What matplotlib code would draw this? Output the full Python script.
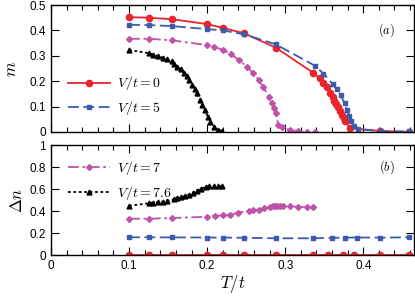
import matplotlib
matplotlib.use("Agg")
import matplotlib.pyplot as plt
from matplotlib.ticker import MultipleLocator

plt.rcParams['font.family'] = ['Liberation Sans', 'DejaVu Sans']
plt.rcParams['mathtext.fontset'] = 'cm'

# ---- data: panel (a) order parameter m ----
T0_m = [0.1, 0.125, 0.155, 0.2, 0.22, 0.247, 0.288, 0.336, 0.344, 0.348, 0.353, 0.358, 0.361,
        0.363, 0.365, 0.368, 0.370, 0.373, 0.375, 0.377, 0.383, 0.422, 0.459]
m0 = [0.452, 0.45, 0.444, 0.425, 0.41, 0.389, 0.332, 0.233, 0.211, 0.194, 0.176, 0.155, 0.139,
      0.123, 0.109, 0.097, 0.084, 0.067, 0.054, 0.043, 0.015, 0.004, 0.0]

T5_m = [0.1, 0.125, 0.155, 0.2, 0.22, 0.247, 0.288, 0.338, 0.349, 0.361, 0.366, 0.371, 0.376,
        0.379, 0.382, 0.384, 0.388, 0.393, 0.422, 0.459]
m5 = [0.422, 0.421, 0.417, 0.405, 0.4, 0.385, 0.345, 0.261, 0.23, 0.188, 0.168, 0.145, 0.113,
      0.087, 0.063, 0.043, 0.024, 0.011, 0.003, 0.002]

T7_m = [0.1, 0.125, 0.155, 0.2, 0.209, 0.22, 0.23, 0.241, 0.251, 0.259, 0.266, 0.272, 0.279,
        0.283, 0.286, 0.288, 0.291, 0.296, 0.306, 0.317, 0.328, 0.338]
m7 = [0.367, 0.367, 0.361, 0.342, 0.336, 0.323, 0.307, 0.283, 0.257, 0.231, 0.205, 0.176, 0.139,
      0.113, 0.093, 0.074, 0.028, 0.021, 0.008, 0.002, 0.0, 0.0]

T76_m = [0.1, 0.126, 0.131, 0.137, 0.143, 0.148, 0.155, 0.158, 0.162, 0.166, 0.17, 0.174, 0.177,
         0.18, 0.184, 0.187, 0.191, 0.194, 0.197, 0.201, 0.204, 0.209, 0.214, 0.219]
m76 = [0.323, 0.31, 0.304, 0.299, 0.293, 0.286, 0.28, 0.268, 0.257, 0.247, 0.233, 0.22, 0.205,
       0.185, 0.168, 0.152, 0.126, 0.106, 0.087, 0.06, 0.041, 0.019, 0.008, 0.004]

# ---- data: panel (b) Delta n ----
T0_n = [0.1, 0.125, 0.155, 0.2, 0.22, 0.247, 0.288, 0.336, 0.355, 0.374, 0.388, 0.422, 0.459]
n0 = [0.0] * 13

T5_n = [0.1, 0.125, 0.155, 0.2, 0.22, 0.247, 0.288, 0.336, 0.36, 0.376, 0.392, 0.422, 0.459]
n5 = [0.161, 0.161, 0.16, 0.159, 0.158, 0.157, 0.152, 0.152, 0.156, 0.158, 0.159, 0.158, 0.161]

T7_n = [0.1, 0.125, 0.155, 0.2, 0.21, 0.22, 0.229, 0.24, 0.253, 0.259, 0.266, 0.273, 0.28,
        0.284, 0.287, 0.29, 0.293, 0.297, 0.306, 0.317, 0.328, 0.336]
n7 = [0.33, 0.33, 0.336, 0.348, 0.355, 0.36, 0.366, 0.385, 0.4, 0.406, 0.412, 0.424, 0.439,
      0.447, 0.449, 0.449, 0.448, 0.447, 0.443, 0.438, 0.435, 0.433]

T76_n = [0.1, 0.126, 0.131, 0.137, 0.143, 0.148, 0.157, 0.162, 0.166, 0.172, 0.177, 0.182,
         0.187, 0.192, 0.199, 0.203, 0.209, 0.214, 0.219]
n76 = [0.448, 0.47, 0.476, 0.48, 0.485, 0.49, 0.506, 0.515, 0.524, 0.536, 0.55, 0.566,
       0.585, 0.6, 0.621, 0.627, 0.627, 0.627, 0.627]

labels = [r'$V/t=0$', r'$V/t=5$', r'$V/t=7$', r'$V/t=7.6$']
ytick_top = ['0', '0.1', '0.2', '0.3', '0.4', '0.5']
ytick_bot = ['0', '0.2', '0.4', '0.6', '0.8', '1']
xtick_lab = ['0', '0.1', '0.2', '0.3', '0.4']

RED = '#e8242c'
BLUE = '#3b5bab'
MAG = '#c053a9'
BLK = '#000000'

styles = [
    dict(color=RED, ls='-', marker='o', ms=4.5, lw=1.3),
    dict(color=BLUE, ls=(0, (6, 2.5)), marker='s', ms=3.5, lw=1.3),
    dict(color=MAG, ls=(0, (6, 2, 1.5, 2)), marker='D', ms=3, lw=1.3),
    dict(color=BLK, ls=(0, (1.5, 1.5)), marker='^', ms=3.5, lw=1.3),
]

fig = plt.figure(figsize=(4.15, 2.99), dpi=100)
W = 415.0; H = 299.0
ax1 = fig.add_axes([51 / W, 1 - 132 / H, (414 - 51) / W, (132 - 5) / H])
ax2 = fig.add_axes([51 / W, 1 - 255 / H, (414 - 51) / W, (255 - 145) / H])

top = [(T0_m, m0), (T5_m, m5), (T7_m, m7), (T76_m, m76)]
bot = [(T0_n, n0), (T5_n, n5), (T7_n, n7), (T76_n, n76)]
h1 = []
h2 = []
for (x, y), st, lab in zip(top, styles, labels):
    h1.append(ax1.plot(x, y, label=lab, **st)[0])
for (x, y), st, lab in zip(bot, styles, labels):
    h2.append(ax2.plot(x, y, label=lab, **st)[0])

for ax in (ax1, ax2):
    ax.set_xlim(0, 0.465)
    ax.xaxis.set_major_locator(MultipleLocator(0.1))
    ax.xaxis.set_minor_locator(MultipleLocator(0.02))
    ax.tick_params(which='both', direction='in', top=True, right=True, labelsize=8.5)
    ax.tick_params(which='major', length=6, width=0.8)
    ax.tick_params(which='minor', length=3.3, width=0.8)
    for s in ax.spines.values():
        s.set_linewidth(1.0)

ax1.set_ylim(0, 0.5)
ax1.set_yticks([0, 0.1, 0.2, 0.3, 0.4, 0.5])
ax1.set_yticklabels(ytick_top)
ax1.tick_params(labelbottom=False)

ax2.set_ylim(0, 1)
ax2.set_yticks([0, 0.2, 0.4, 0.6, 0.8, 1.0])
ax2.set_yticklabels(ytick_bot)
ax2.set_xticks([0, 0.1, 0.2, 0.3, 0.4])
ax2.set_xticklabels(xtick_lab)

ax1.set_ylabel(r'$m$', fontsize=12, labelpad=8)
ax2.set_ylabel(r'$\Delta n$', fontsize=12, labelpad=3)
ax2.set_xlabel(r'$T/t$', fontsize=12, labelpad=1)

ax1.text(0.925, 0.8, r'$(a)$', transform=ax1.transAxes, fontsize=9, ha='center', va='center')
ax2.text(0.925, 0.8, r'$(b)$', transform=ax2.transAxes, fontsize=9, ha='center', va='center')

leg_kw = dict(frameon=False, fontsize=10, handlelength=3.0, handletextpad=0.5,
              labelspacing=0.5, borderaxespad=0.3)
ax1.legend(handles=h1[:2], loc='upper left', bbox_to_anchor=(0.02, 0.53), **leg_kw)
ax2.legend(handles=h2[2:], loc='upper left', bbox_to_anchor=(0.02, 0.965), **leg_kw)

fig.savefig('out.png', dpi=100)
